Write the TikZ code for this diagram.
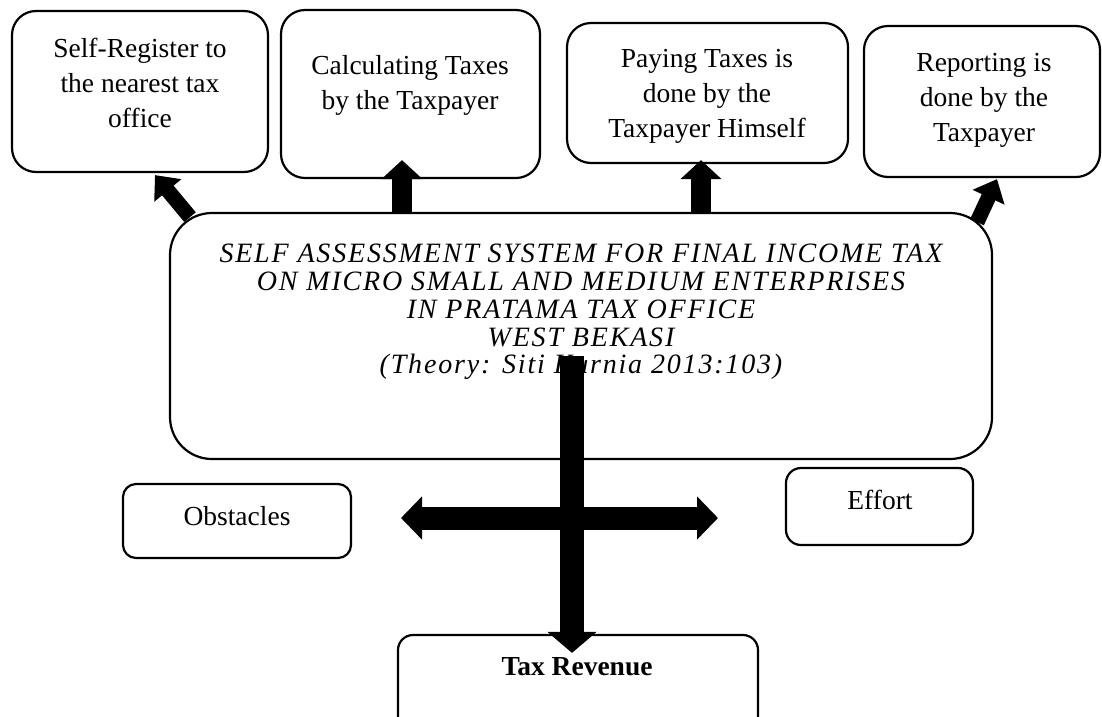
\documentclass[tikz,border=0pt]{standalone}
\usepackage{fontspec}
\setmainfont{Liberation Serif}
\usetikzlibrary{arrows.meta,calc}
\newcommand\myMainFont{\itshape\addfontfeature{LetterSpace=6.5}\fontsize{28}{27.75}\selectfont\lineskiplimit=-20pt\relax}
\begin{document}
\begin{tikzpicture}[x=1pt,y=-1pt,
  box/.style={draw, line width=2.2pt, rounded corners=#1, fill=white, inner sep=0pt},
  txt/.style={align=center, inner sep=0pt, font=\fontsize{27.5}{35}\selectfont},
  maintxt/.style={align=center, inner sep=0pt, font=\myMainFont},
  arrS/.style={line width=15pt, -{Triangle[width=34pt,length=20pt]}},
  arrM/.style={line width=20pt, -{Triangle[width=40pt,length=19pt]}},
  arrV/.style={line width=24pt, -{Triangle[width=48pt,length=21pt]}},
  arrH/.style={line width=23pt, {Triangle[width=42pt,length=21pt]}-{Triangle[width=42pt,length=21pt]}}
]
\useasboundingbox (0,0) rectangle (1102,716);

% boxes
\node[box=24pt, minimum width=256pt, minimum height=161pt] (b1) at (140,91.5) {};
\node[box=24pt, minimum width=259pt, minimum height=168pt] (b2) at (410.5,94) {};
\node[box=24pt, minimum width=281pt, minimum height=140pt] (b3) at (707.5,93) {};
\node[box=24pt, minimum width=236pt, minimum height=151pt] (b4) at (982,101.5) {};
\node[box=42pt, minimum width=822pt, minimum height=246pt] (main) at (581,336) {};
\node[box=13pt, minimum width=228pt, minimum height=74pt] (obs) at (237,521) {};
\node[box=15pt, minimum width=187pt, minimum height=77pt] (eff) at (879.5,506.5) {};
\node[box=15pt, minimum width=360pt, minimum height=125pt] (tr) at (578,697.5) {};

% texts
\node[txt] (t1) at (140,83) {Self-Register to\\the nearest tax\\office};
\node[txt] (t2) at (410,85) {Calculating Taxes\\by the Taxpayer};
\node[txt] (t3) at (707,96) {Paying Taxes is\\done by the\\Taxpayer Himself};
\node[txt] (t4) at (984,100) {Reporting is\\done by the\\Taxpayer};
\node[maintxt] (tm) at (581,312) {SELF ASSESSMENT SYSTEM FOR FINAL INCOME TAX\\ON MICRO SMALL AND MEDIUM ENTERPRISES\\IN PRATAMA TAX OFFICE\\WEST BEKASI\\(Theory: Siti Kurnia 2013:103)};
\node[txt, anchor=base] (to) at (237,525) {Obstacles};
\node[txt, anchor=base] (te) at (880,509) {Effort};
\node[txt, anchor=base, font=\bfseries\fontsize{27.5}{35}\selectfont] (tt) at (577,675) {Tax Revenue};

% connector end points
\coordinate (vtop) at (572,356);
\coordinate (hl) at (401,518);
\coordinate (hr) at (718,518);

% arrows
\draw[arrS] ($(b1.south)+(50,44)$) -- ($(b1.south)+(15,2)$);
\draw[arrM] ($(b2.south)+(-8.5,35)$) -- ($(b2.south)+(-8.5,-19)$);
\draw[arrM] ($(b3.south)+(-6.5,50)$) -- ($(b3.south)+(-6.5,-4)$);
\draw[arrS] ($(b4.south)+(-5,44)$) -- ($(b4.south)+(15,1)$);
\draw[arrV] (vtop) -- ($(tr.north)+(-6,19)$);
\draw[arrH] (hl) -- (hr);
\end{tikzpicture}
\end{document}
